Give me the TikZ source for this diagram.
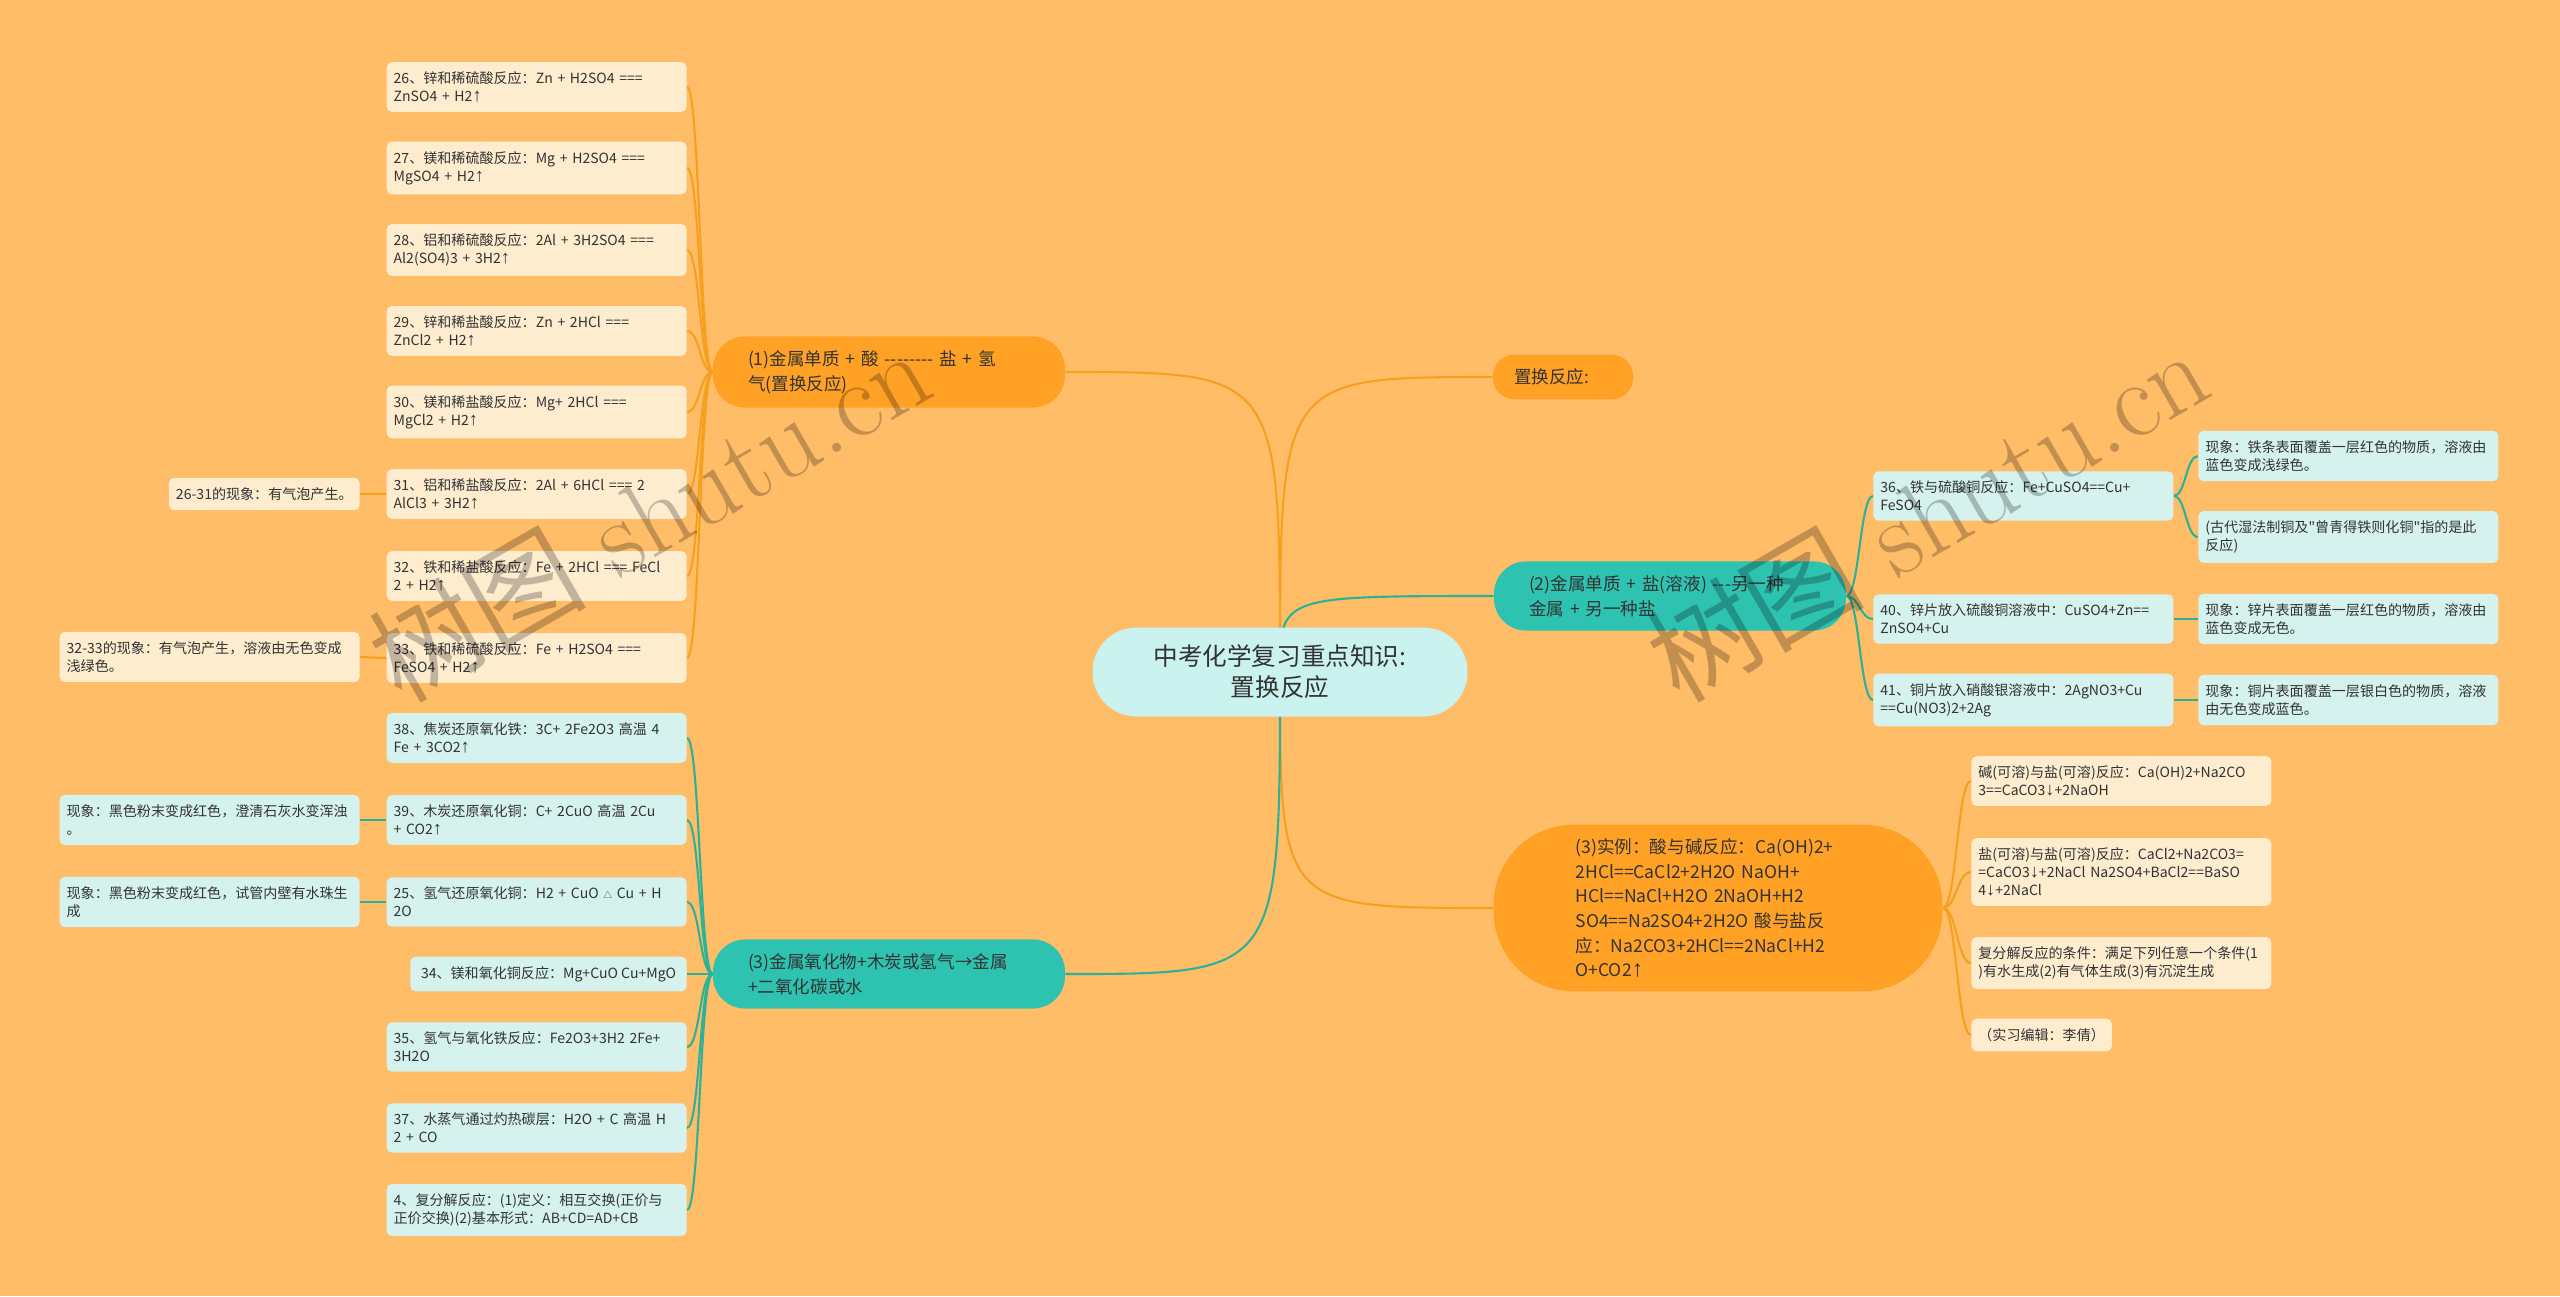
\documentclass[tikz,border=0pt]{standalone}
\usepackage{fontspec}
\newfontfamily\cjk{Noto Sans CJK SC}
\newfontfamily\arw{Liberation Sans}[Scale=1.3]
\newcommand\gasup{{\arw ↑}}
\newcommand\sinkdown{{\arw ↓}}
\usetikzlibrary{positioning}
\pgfdeclarelayer{background}
\pgfsetlayers{background,main}

\definecolor{bgorange}{RGB}{255,189,104}
\definecolor{brorange}{RGB}{255,161,36}
\definecolor{leafcream}{RGB}{254,236,207}
\definecolor{brteal}{RGB}{46,194,177}
\definecolor{leafcyan}{RGB}{213,242,238}
\definecolor{rootcyan}{RGB}{202,242,238}
\definecolor{lnorange}{RGB}{246,160,32}
\definecolor{lnteal}{RGB}{44,178,152}
\definecolor{txtgray}{RGB}{51,51,51}

\tikzset{
  leafbox/.style={rounded corners=3pt, inner xsep=4pt, inner ysep=5.5pt, text=txtgray,
    font=\cjk\fontsize{8}{10.2}\selectfont, align=left},
  wide/.style={text width=5.72cm},
  leafo/.style={leafbox, fill=leafcream},
  leaft/.style={leafbox, fill=leafcyan},
  branch/.style={rounded corners=0.64cm, inner ysep=8pt, inner xsep=0.7cm, text=txtgray,
    font=\cjk\fontsize{10}{14}\selectfont, align=left},
  lineo/.style={draw=lnorange, line width=1.2pt},
  linet/.style={draw=lnteal, line width=1.2pt},
  mark wm/.style={rotate=30, text=black, text opacity=0.24, font=\fontsize{62}{62}\selectfont}
}

\begin{document}
\begin{tikzpicture}[x=0.02cm,y=-0.02cm]
\useasboundingbox (0,0) rectangle (2560,1296);

% centre and main branches
\node[fill=rootcyan, rounded corners=0.88cm, minimum width=7.5cm, minimum height=1.78cm,
  align=center, text=txtgray, font=\cjk\fontsize{14}{17.7}\selectfont] (root) at (1280,672)
  {中考化学复习重点知识:\\置换反应};
\node[branch, fill=brorange, text width=5.64cm] (acid) at (889,372)
  {(1)金属单质 + 酸 -------- 盐 + 氢\\气(置换反应)};
\node[branch, fill=brteal, text width=5.64cm] (oxide) at (889,974)
  {(3)金属氧化物+木炭或氢气→金属\\+二氧化碳或水};
\node[branch, fill=brorange, text width=1.96cm, inner xsep=0.42cm, rounded corners=0.42cm] (swap) at (1563,377)
  {置换反应:};
\node[branch, fill=brteal, text width=5.64cm] (salt) at (1670,596)
  {(2)金属单质 + 盐(溶液) ---另一种\\金属 + 另一种盐};
\node[branch, fill=brorange, text width=5.7cm, inner xsep=1.64cm, rounded corners=1.6cm] (base) at (1718,908)
  {(3)实例：酸与碱反应：Ca(OH)2+\\2HCl==CaCl2+2H2O NaOH+\\HCl==NaCl+H2O 2NaOH+H2\\SO4==Na2SO4+2H2O 酸与盐反\\应：Na2CO3+2HCl==2NaCl+H2\\O+CO2\gasup};

% metal + acid
\node[leafo, wide, anchor=east] (rx26) at (687,87) {26、锌和稀硫酸反应：Zn + H2SO4 ===\\ZnSO4 + H2\gasup};
\node[leafo, wide, anchor=east] (rx27) at (687,168) {27、镁和稀硫酸反应：Mg + H2SO4 ===\\MgSO4 + H2\gasup};
\node[leafo, wide, anchor=east] (rx28) at (687,250) {28、铝和稀硫酸反应：2Al + 3H2SO4 ===\\Al2(SO4)3 + 3H2\gasup};
\node[leafo, wide, anchor=east] (rx29) at (687,331) {29、锌和稀盐酸反应：Zn + 2HCl ===\\ZnCl2 + H2\gasup};
\node[leafo, wide, anchor=east] (rx30) at (687,412) {30、镁和稀盐酸反应：Mg+ 2HCl ===\\MgCl2 + H2\gasup};
\node[leafo, wide, anchor=east] (rx31) at (687,494) {31、铝和稀盐酸反应：2Al + 6HCl === 2\\AlCl3 + 3H2\gasup};
\node[leafo, wide, anchor=east] (rx32) at (687,576) {32、铁和稀盐酸反应：Fe + 2HCl === FeCl\\2 + H2\gasup};
\node[leafo, wide, anchor=east] (rx33) at (687,658) {33、铁和稀硫酸反应：Fe + H2SO4 ===\\FeSO4 + H2\gasup};
\node[leafo, anchor=east] (obs31) at (360,494) {26-31的现象：有气泡产生。};
\node[leafo, wide, anchor=east] (obs33) at (360,657) {32-33的现象：有气泡产生，溶液由无色变成\\浅绿色。};

% oxide reductions
\node[leaft, wide, anchor=east] (rx38) at (687,738) {38、焦炭还原氧化铁：3C+ 2Fe2O3 高温 4\\Fe + 3CO2\gasup};
\node[leaft, wide, anchor=east] (rx39) at (687,820) {39、木炭还原氧化铜：C+ 2CuO 高温 2Cu\\+ CO2\gasup};
\node[leaft, wide, anchor=east] (rx25) at (687,902) {25、氢气还原氧化铜：H2 + CuO {\fontsize{5}{5}\selectfont △} Cu + H\\2O};
\node[leaft, anchor=east, inner xsep=6pt] (rx34) at (687,974) {34、镁和氧化铜反应：Mg+CuO Cu+MgO};
\node[leaft, wide, anchor=east] (rx35) at (687,1047) {35、氢气与氧化铁反应：Fe2O3+3H2 2Fe+\\3H2O};
\node[leaft, wide, anchor=east] (rx37) at (687,1128) {37、水蒸气通过灼热碳层：H2O + C 高温 H\\2 + CO};
\node[leaft, wide, anchor=east] (rx4) at (687,1210) {4、复分解反应：(1)定义：相互交换(正价与\\正价交换)(2)基本形式：AB+CD=AD+CB};
\node[leaft, wide, anchor=east] (obs39) at (360,820) {现象：黑色粉末变成红色，澄清石灰水变浑浊\\。};
\node[leaft, wide, anchor=east] (obs25) at (360,902) {现象：黑色粉末变成红色，试管内壁有水珠生\\成};

% metal + salt
\node[leaft, wide, anchor=west] (rx36) at (1873,496) {36、铁与硫酸铜反应：Fe+CuSO4==Cu+\\FeSO4};
\node[leaft, wide, anchor=west] (rx40) at (1873,619) {40、锌片放入硫酸铜溶液中：CuSO4+Zn==\\ZnSO4+Cu};
\node[leaft, wide, anchor=west] (rx41) at (1873,700) {41、铜片放入硝酸银溶液中：2AgNO3+Cu\\==Cu(NO3)2+2Ag};
\node[leaft, wide, anchor=west] (obs36) at (2198,456) {现象：铁条表面覆盖一层红色的物质，溶液由\\蓝色变成浅绿色。};
\node[leaft, wide, anchor=west] (hist36) at (2198,537) {(古代湿法制铜及"曾青得铁则化铜"指的是此\\反应)};
\node[leaft, wide, anchor=west] (obs40) at (2198,619) {现象：锌片表面覆盖一层红色的物质，溶液由\\蓝色变成无色。};
\node[leaft, wide, anchor=west] (obs41) at (2198,700) {现象：铜片表面覆盖一层银白色的物质，溶液\\由无色变成蓝色。};

% double decomposition
\node[leafo, wide, anchor=west] (nb1) at (1971,781) {碱(可溶)与盐(可溶)反应：Ca(OH)2+Na2CO\\3==CaCO3\sinkdown+2NaOH};
\node[leafo, wide, anchor=west] (nb2) at (1971,872) {盐(可溶)与盐(可溶)反应：CaCl2+Na2CO3=\\=CaCO3\sinkdown+2NaCl Na2SO4+BaCl2==BaSO\\4\sinkdown+2NaCl};
\node[leafo, wide, anchor=west] (nb3) at (1971,963) {复分解反应的条件：满足下列任意一个条件(1\\)有水生成(2)有气体生成(3)有沉淀生成};
\node[leafo, anchor=west] (editor) at (1971,1035) {（实习编辑：李倩）};

\begin{pgfonlayer}{background}
\fill[bgorange] (0,0) rectangle (2560,1296);
% centre to branches
\draw[lineo] (root.center) .. controls (root.center |- acid.east) .. (acid.east);
\draw[lineo] (root.center) .. controls (root.center |- swap.west) .. (swap.west);
\draw[linet] (root.center) .. controls (root.center |- salt.west) .. (salt.west);
\draw[lineo] (root.center) .. controls (root.center |- base.west) .. (base.west);
\draw[linet] (root.center) .. controls (root.center |- oxide.east) .. (oxide.east);
% branches to leaves
\foreach \n in {rx26,rx27,rx28,rx29,rx30,rx31,rx32,rx33}
  \draw[lineo] (acid.west) .. controls +(-13,0) and +(13,0) .. (\n.east);
\foreach \n in {rx38,rx39,rx25,rx34,rx35,rx37,rx4}
  \draw[linet] (oxide.west) .. controls +(-13,0) and +(13,0) .. (\n.east);
\foreach \n in {rx36,rx40,rx41}
  \draw[linet] (salt.east) .. controls +(13,0) and +(-13,0) .. (\n.west);
\foreach \n in {obs36,hist36}
  \draw[linet] (rx36.east) .. controls +(12,0) and +(-12,0) .. (\n.west);
\foreach \n in {nb1,nb2,nb3,editor}
  \draw[lineo] (base.east) .. controls +(14,0) and +(-14,0) .. (\n.west);
\draw[lineo] (rx31.west) -- (obs31.east);
\draw[lineo] (rx33.west) -- (obs33.east);
\draw[linet] (rx39.west) -- (obs39.east);
\draw[linet] (rx25.west) -- (obs25.east);
\draw[linet] (rx40.east) -- (obs40.west);
\draw[linet] (rx41.east) -- (obs41.west);
\end{pgfonlayer}

% watermark
\node[mark wm] (wmleft) at (649,514) {{\cjk 树图} shutu.cn};
\node[mark wm] (wmright) at (1927,514) {{\cjk 树图} shutu.cn};
\end{tikzpicture}
\end{document}
